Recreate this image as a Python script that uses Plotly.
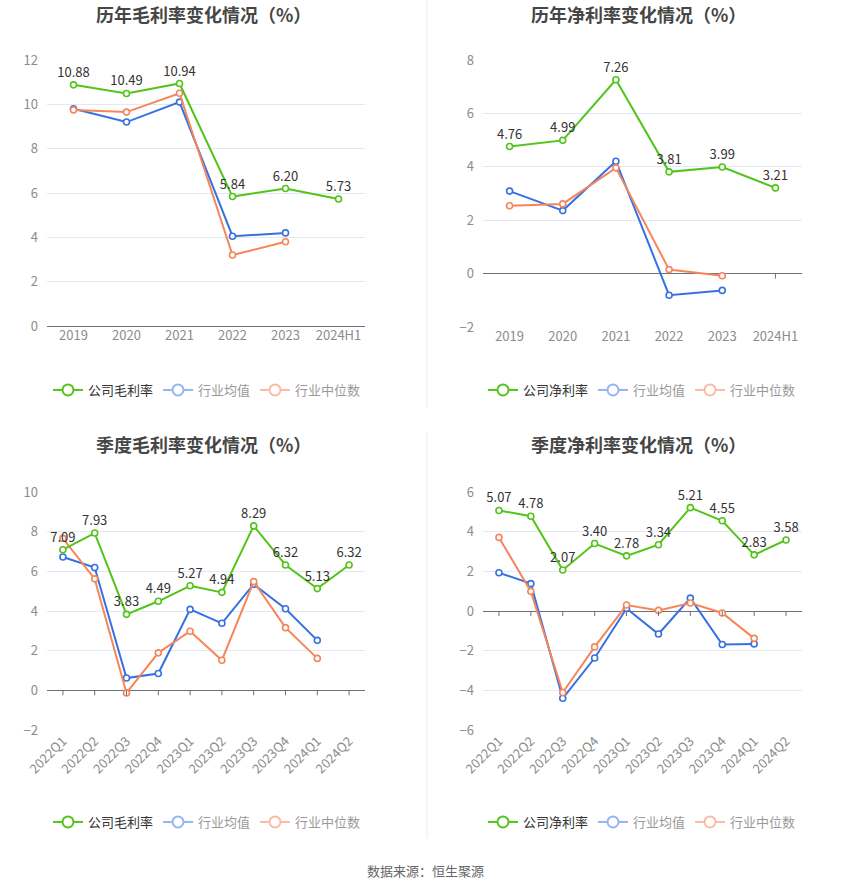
import plotly.graph_objects as go

years = ["2019", "2020", "2021", "2022", "2023", "2024H1"]
quarters = ["2022Q1", "2022Q2", "2022Q3", "2022Q4", "2023Q1", "2023Q2",
            "2023Q3", "2023Q4", "2024Q1", "2024Q2"]

# 历年毛利率
gross_y_company = [10.88, 10.49, 10.94, 5.84, 6.20, 5.73]
gross_y_avg = [9.80, 9.20, 10.10, 4.05, 4.20, None]
gross_y_median = [9.75, 9.65, 10.50, 3.20, 3.80, None]

# 历年净利率
net_y_company = [4.76, 4.99, 7.26, 3.81, 3.99, 3.21]
net_y_avg = [3.09, 2.36, 4.21, -0.81, -0.63, None]
net_y_median = [2.54, 2.61, 3.96, 0.15, -0.08, None]

# 季度毛利率
gross_q_company = [7.09, 7.93, 3.83, 4.49, 5.27, 4.94, 8.29, 6.32, 5.13, 6.32]
gross_q_avg = [6.72, 6.19, 0.62, 0.85, 4.08, 3.38, 5.35, 4.11, 2.52, None]
gross_q_median = [7.66, 5.62, -0.13, 1.89, 2.98, 1.52, 5.48, 3.16, 1.61, None]

# 季度净利率
net_q_company = [5.07, 4.78, 2.07, 3.40, 2.78, 3.34, 5.21, 4.55, 2.83, 3.58]
net_q_avg = [1.93, 1.38, -4.40, -2.37, 0.13, -1.16, 0.65, -1.69, -1.66, None]
net_q_median = [3.71, 0.99, -4.11, -1.81, 0.30, 0.03, 0.40, -0.10, -1.38, None]

GREEN = "#52c41a"
BLUE = "#3671e3"
ORANGE = "#f6855a"
BLUE_L = "#95b5f1"
ORANGE_L = "#f9bca3"
FONT = "Noto Sans CJK SC"

W, H = 850, 891


def px_x(p):
    return p / W


def px_y(p):
    return 1 - p / H


panels = [
    dict(title="历年毛利率变化情况（%）", cats=years, comp=gross_y_company,
         avg=gross_y_avg, med=gross_y_median, name="公司毛利率",
         xd=[47, 365], yd=[60, 326], rng=[0, 12], dtick=2, angle=0,
         cx=203, ty=14, ly=390),
    dict(title="历年净利率变化情况（%）", cats=years, comp=net_y_company,
         avg=net_y_avg, med=net_y_median, name="公司净利率",
         xd=[483, 802], yd=[60, 327], rng=[-2, 8], dtick=2, angle=0,
         cx=638, ty=14, ly=390),
    dict(title="季度毛利率变化情况（%）", cats=quarters, comp=gross_q_company,
         avg=gross_q_avg, med=gross_q_median, name="公司毛利率",
         xd=[47, 365], yd=[492, 730], rng=[-2, 10], dtick=2, angle=-45,
         cx=203, ty=444, ly=822),
    dict(title="季度净利率变化情况（%）", cats=quarters, comp=net_q_company,
         avg=net_q_avg, med=net_q_median, name="公司净利率",
         xd=[483, 802], yd=[492, 730], rng=[-6, 6], dtick=2, angle=-45,
         cx=638, ty=444, ly=822),
]

fig = go.Figure()
annotations = []
shapes = []
layout = {}

for i, p in enumerate(panels):
    n = "" if i == 0 else str(i + 1)
    xa, ya = "x" + n, "y" + n
    lg = "legend" + n

    def line_trace(y, color, text=None):
        return go.Scatter(
            x=p["cats"], y=y, xaxis=xa, yaxis=ya,
            mode="lines+markers+text" if text else "lines+markers",
            line=dict(color=color, width=2),
            marker=dict(symbol="circle", size=6, color="white", line=dict(color=color, width=1.6)),
            text=text, textposition="top center",
            textfont=dict(family=FONT, size=13, color="#333333"),
            showlegend=False, hoverinfo="x+y", cliponaxis=False)

    fig.add_trace(line_trace(p["avg"], BLUE))
    fig.add_trace(line_trace(p["med"], ORANGE))
    fig.add_trace(line_trace(p["comp"], GREEN, ["%.2f" % v for v in p["comp"]]))

    # legend entries
    for nm, col, tc in [(p["name"], GREEN, "#333333"), ("行业均值", BLUE_L, "#999999"),
                        ("行业中位数", ORANGE_L, "#999999")]:
        fig.add_trace(go.Scatter(
            x=[None], y=[None], xaxis=xa, yaxis=ya, mode="lines+markers",
            name='<span style="color:%s">%s</span>' % (tc, nm),
            line=dict(color=col, width=2),
            marker=dict(symbol="circle", size=11, color="white", line=dict(color=col, width=2)),
            legend=lg))

    layout["xaxis" + n] = dict(
        domain=[px_x(p["xd"][0]), px_x(p["xd"][1])], anchor=ya,
        type="category", categoryorder="array", categoryarray=p["cats"],
        range=[-0.5, len(p["cats"]) - 0.5], showgrid=False, showline=False,
        ticks="", tickangle=p["angle"], fixedrange=True, automargin=False,
        tickfont=dict(family=FONT, size=13, color="#8c8c8c"))
    layout["yaxis" + n] = dict(
        domain=[px_y(p["yd"][1]), px_y(p["yd"][0])], anchor=xa,
        range=p["rng"], dtick=p["dtick"], showgrid=True, gridcolor="#e3e8f3",
        gridwidth=1, zeroline=True, zerolinecolor="#6e7079", zerolinewidth=1,
        showline=False, ticks="", ticklabelstandoff=8, automargin=False,
        fixedrange=True, tickfont=dict(family=FONT, size=13, color="#8c8c8c"))

    # small tick marks on the zero axis line
    for c in p["cats"]:
        shapes.append(dict(type="line", xref=xa, yref=ya, x0=c, x1=c, y0=0, y1=-5,
                           ysizemode="pixel", yanchor=0,
                           line=dict(color="#6e7079", width=1)))

    annotations.append(dict(
        text="<b>%s</b>" % p["title"], x=px_x(p["cx"]), y=px_y(p["ty"]),
        xref="paper", yref="paper", xanchor="center", yanchor="middle",
        showarrow=False, font=dict(family=FONT, size=18, color="#464646")))

    layout[lg] = dict(
        x=px_x(p["cx"] + 4), y=px_y(p["ly"]), xanchor="center", yanchor="middle",
        orientation="h", font=dict(family=FONT, size=13, color="#333333"),
        itemwidth=30, bgcolor="rgba(0,0,0,0)", tracegroupgap=0)

annotations.append(dict(
    text="数据来源：恒生聚源", x=0.5, y=px_y(870), xref="paper", yref="paper",
    xanchor="center", yanchor="middle", showarrow=False,
    font=dict(family=FONT, size=13, color="#666666")))

# panel dividers
shapes.append(dict(type="line", xref="paper", yref="paper", x0=px_x(427), x1=px_x(427),
                   y0=px_y(408), y1=px_y(0), line=dict(color="#ededed", width=1)))
shapes.append(dict(type="line", xref="paper", yref="paper", x0=px_x(427), x1=px_x(427),
                   y0=px_y(838), y1=px_y(432), line=dict(color="#ededed", width=1)))

fig.update_layout(
    template="none",
    width=W, height=H, margin=dict(l=0, r=0, t=0, b=0, pad=0, autoexpand=False),
    paper_bgcolor="white", plot_bgcolor="white", hovermode="closest",
    annotations=annotations, shapes=shapes, **layout)

# drop the default page margin so the figure sits at the window's corner
fig.write_html("out.html", config={"displayModeBar": False},
               post_script="document.body.style.margin='0';")
